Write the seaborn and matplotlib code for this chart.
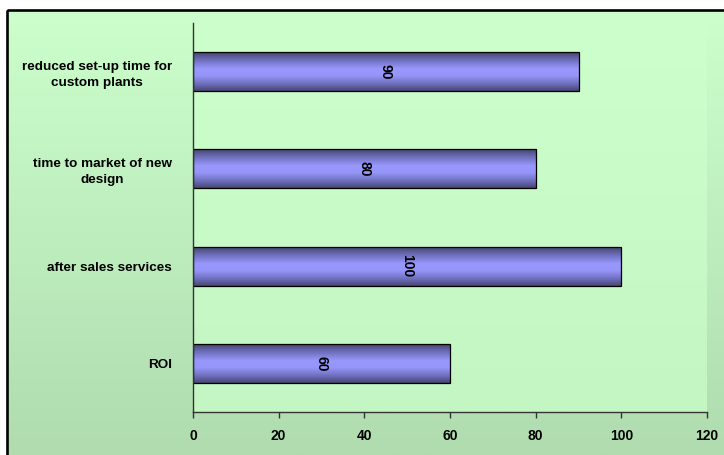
import numpy as np
import pandas as pd
import matplotlib
matplotlib.use("Agg")
import matplotlib.pyplot as plt
import seaborn as sns
from matplotlib.colors import LinearSegmentedColormap
from matplotlib.patches import Rectangle

# data
categories = [
    "reduced set-up time for\ncustom plants",
    "time to market of new\ndesign",
    "after sales services",
    "ROI",
]
values = [90, 80, 100, 60]
x_ticks = [0, 20, 40, 60, 80, 100, 120]

df = pd.DataFrame({"Category": categories, "Value": values})

sns.set_theme(style="white")
plt.rcParams["font.family"] = ["Liberation Sans", "DejaVu Sans"]

W, H = 724, 455
fig = plt.figure(figsize=(W / 100, H / 100), dpi=100)
fig.patch.set_facecolor("white")

# chart area background (pixel coordinates)
bg = fig.add_axes([0, 0, 1, 1], zorder=0)
grad = np.linspace(0, 1, 256).reshape(-1, 1)
bg_cmap = LinearSegmentedColormap.from_list("bg", ["#CCFFCC", "#B0DCB0"])
pa_cmap = LinearSegmentedColormap.from_list("pa", ["#CCFFCC", "#C3F6C3"])
bg.imshow(grad, cmap=bg_cmap, extent=[7, W + 5, H, 10], aspect="auto")
bg.imshow(grad, cmap=pa_cmap, extent=[193, 707, 412, 23], aspect="auto")
bg.add_patch(Rectangle((7, 10), W + 50, H + 50, fill=False, ec="black", lw=1.9))
bg.set_xlim(0, W)
bg.set_ylim(H, 0)
bg.axis("off")

# plot area
ax = fig.add_axes([193 / W, 1 - 412 / H, (707 - 193) / W, (412 - 23) / H], zorder=1)
ax.patch.set_alpha(0)

sns.barplot(data=df, x="Value", y="Category", orient="h", width=0.4,
            color="#9999FF", edgecolor="black", linewidth=0.9, ax=ax)

bar_cmap = LinearSegmentedColormap.from_list(
    "bar",
    [(0.0, "#44446E"), (0.18, "#6A6AB4"), (0.42, "#9797FC"),
     (0.6, "#9696FA"), (0.82, "#6E6EBC"), (1.0, "#45456F")],
)
for p in ax.patches:
    x0, y0 = p.get_x(), p.get_y()
    w, h = p.get_width(), p.get_height()
    im = ax.imshow(grad, cmap=bar_cmap, extent=[x0, x0 + w, y0 + h, y0],
                   aspect="auto", zorder=1.5)
    im.set_clip_path(p)
    p.set_facecolor("none")
    p.set_zorder(2)

for i, v in enumerate(values):
    ax.text(v / 2, i, str(v), rotation=-90, ha="center", va="center",
            fontsize=10, fontweight="bold", color="black", zorder=3)

ax.set_xlim(0, 120)
ax.set_ylim(3.5, -0.5)
ax.set_xticks(x_ticks)
ax.set_xticklabels([str(t) for t in x_ticks], fontsize=10, fontweight="bold")
ax.set_yticks(range(len(categories)))
ax.set_yticklabels(categories, fontsize=9.7, fontweight="bold",
                   ha="right", multialignment="center", linespacing=1.4)
ax.set_xlabel("")
ax.set_ylabel("")

sns.despine(ax=ax)
for s in ["left", "bottom"]:
    ax.spines[s].set_color("#333333")
    ax.spines[s].set_linewidth(1.0)
ax.tick_params(axis="x", bottom=True, length=4, width=1, color="#333333",
               direction="out", pad=8, labelcolor="black")
ax.tick_params(axis="y", left=False, length=0, pad=15, labelcolor="black")

fig.savefig("out.png", dpi=100)
plt.close(fig)
